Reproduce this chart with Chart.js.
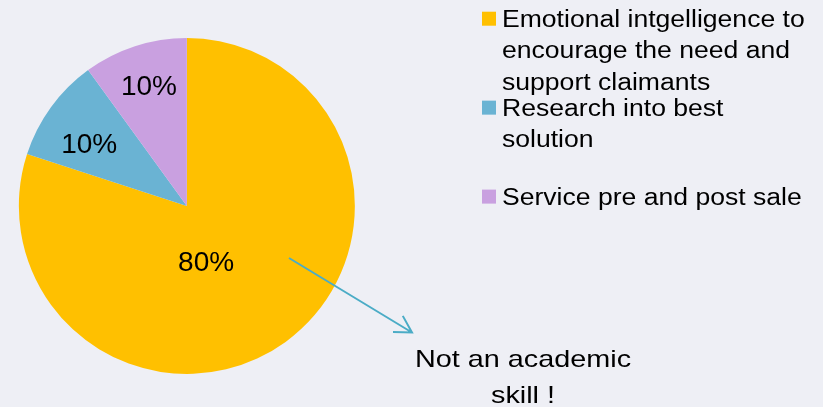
<!DOCTYPE html>
<html>
<head>
<meta charset="utf-8">
<script src="https://cdn.jsdelivr.net/npm/chart.js@4.4.0/dist/chart.umd.min.js"></script>
<style>
  html, body { margin: 0; padding: 0; background: #eeeff5; }
  canvas { display: block; }
</style>
</head>
<body>
<canvas id="pieChart" width="823" height="407"></canvas>
<script>
// chart data
const categories = [
  ["Emotional intgelligence to", "encourage the need and", "support claimants"],
  ["Research into best", "solution"],
  ["Service pre and post sale"]
];
const shares = [80, 10, 10];
const sliceColors = ["#ffc000", "#6ab3d3", "#c9a0e0"];
const noteLines = ["Not an academic", "skill !"];

// where each percent label sits: bearing (deg, clockwise from top) and fraction of radius
const labelSpots = [
  { bearing: 160.7, r: 0.347 },
  { bearing: 303, r: 0.693 },
  { bearing: 342.6, r: 0.755 }
];

// draw text squeezed/stretched horizontally like the original export
function drawText(ctx, text, x, y, align, scaleX) {
  ctx.save();
  ctx.translate(x, y);
  ctx.scale(scaleX, 1);
  ctx.textAlign = align;
  ctx.textBaseline = "alphabetic";
  ctx.fillText(text, 0, 0);
  ctx.restore();
}

const extrasPlugin = {
  id: "extras",
  afterDatasetsDraw(chart) {
    const ctx = chart.ctx;
    const meta = chart.getDatasetMeta(0);
    const total = shares.reduce((a, b) => a + b, 0);

    // percent labels
    ctx.save();
    ctx.fillStyle = "#000";
    ctx.font = "28px 'Liberation Sans', Arial, sans-serif";
    meta.data.forEach((arc, i) => {
      const spot = labelSpots[i];
      const a = spot.bearing * Math.PI / 180;
      const px = arc.x + Math.sin(a) * arc.outerRadius * spot.r;
      const py = arc.y - Math.cos(a) * arc.outerRadius * spot.r;
      const txt = Math.round(shares[i] / total * 100) + "%";
      ctx.textAlign = "center";
      ctx.textBaseline = "alphabetic";
      ctx.fillText(txt, px, py + 10);
    });
    ctx.restore();

    // legend
    ctx.save();
    ctx.fillStyle = "#000";
    ctx.font = "23px 'Liberation Sans', Arial, sans-serif";
    const capHalf = 8.2;
    const lineH = 31.3;
    categories.forEach((lines, i) => {
      const mid = 50 + i * 73.3;
      const firstY = mid - (lines.length - 1) / 2 * lineH;
      ctx.fillStyle = sliceColors[i];
      ctx.fillRect(482, firstY - 7, 14, 14);
      ctx.fillStyle = "#000";
      lines.forEach((ln, k) => {
        drawText(ctx, ln, 502, firstY + k * lineH + capHalf, "left", 1.155);
      });
    });
    ctx.restore();

    // arrow
    ctx.save();
    ctx.strokeStyle = "#4bacc6";
    ctx.lineWidth = 2;
    const x0 = 289, y0 = 258, x1 = 412, y1 = 332.5;
    ctx.beginPath();
    ctx.moveTo(x0, y0);
    ctx.lineTo(x1, y1);
    const ang = Math.atan2(y1 - y0, x1 - x0);
    const len = 19;
    ctx.moveTo(x1 + Math.cos(ang + Math.PI - 0.52) * len, y1 + Math.sin(ang + Math.PI - 0.52) * len);
    ctx.lineTo(x1, y1);
    ctx.lineTo(x1 + Math.cos(ang + Math.PI + 0.52) * len, y1 + Math.sin(ang + Math.PI + 0.52) * len);
    ctx.stroke();
    ctx.restore();

    // note under the arrow
    ctx.save();
    ctx.fillStyle = "#000";
    ctx.font = "24px 'Liberation Sans', Arial, sans-serif";
    noteLines.forEach((ln, k) => {
      drawText(ctx, ln, 523, 366.7 + k * 36.5, "center", 1.2);
    });
    ctx.restore();
  }
};

const ctx = document.getElementById("pieChart").getContext("2d");
new Chart(ctx, {
  type: "pie",
  data: {
    labels: categories,
    datasets: [
      {
        data: shares,
        backgroundColor: sliceColors,
        borderWidth: 0
      }
    ]
  },
  options: {
    responsive: false,
    animation: false,
    layout: {
      padding: { left: 18.7, right: 468, top: 38, bottom: 33 }
    },
    plugins: {
      legend: { display: false },
      tooltip: { enabled: false }
    }
  },
  plugins: [extrasPlugin]
});
</script>
</body>
</html>
